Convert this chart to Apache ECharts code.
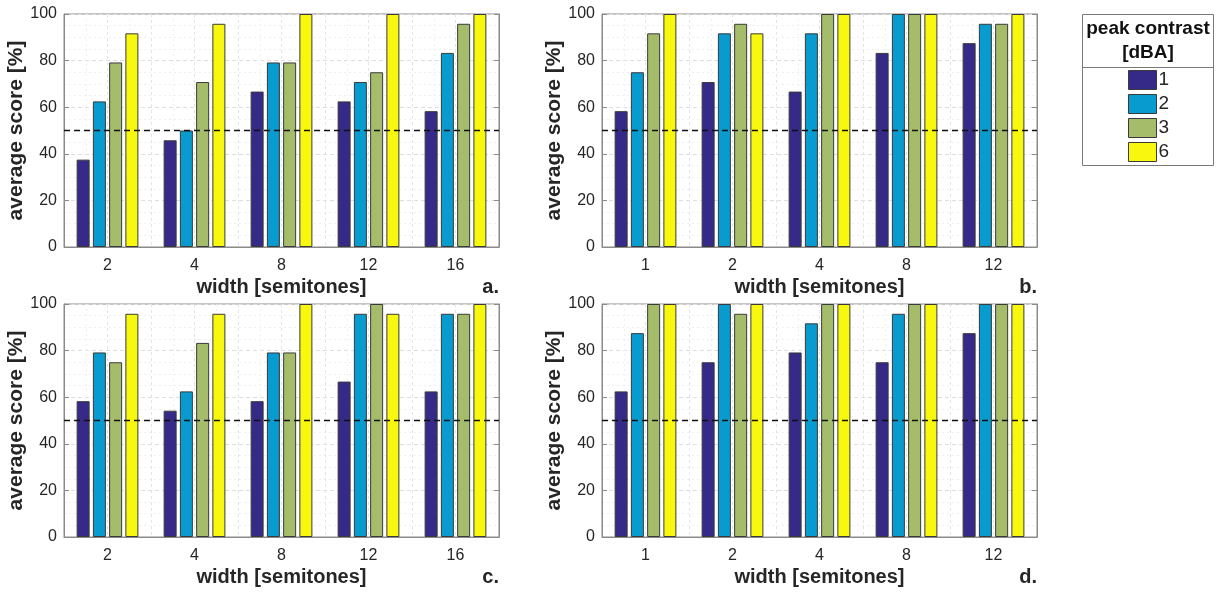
<!DOCTYPE html>
<html>
<head>
<meta charset="utf-8">
<script src="https://cdn.jsdelivr.net/npm/echarts@6/dist/echarts.min.js"></script>
<style>
html,body{margin:0;padding:0;background:#fff;}
#c{width:1221px;height:592px;}
</style>
</head>
<body>
<div id="c"></div>
<script>
// ---- data ----
const catsAC = ['2', '4', '8', '12', '16'];
const catsBD = ['1', '2', '4', '8', '12'];
const seriesNames = ['1', '2', '3', '6'];
const colors = ['#352A87', '#079BCF', '#A5BD6A', '#F8F80F'];

const panelA_1 = [37.5, 45.8, 66.7, 62.5, 58.3];
const panelA_2 = [62.5, 50.0, 79.2, 70.8, 83.3];
const panelA_3 = [79.2, 70.8, 79.2, 75.0, 95.8];
const panelA_6 = [91.7, 95.8, 100, 100, 100];

const panelB_1 = [58.3, 70.8, 66.7, 83.3, 87.5];
const panelB_2 = [75.0, 91.7, 91.7, 100, 95.8];
const panelB_3 = [91.7, 95.8, 100, 100, 95.8];
const panelB_6 = [100, 91.7, 100, 100, 100];

const panelC_1 = [58.3, 54.2, 58.3, 66.7, 62.5];
const panelC_2 = [79.2, 62.5, 79.2, 95.8, 95.8];
const panelC_3 = [75.0, 83.3, 79.2, 100, 95.8];
const panelC_6 = [95.8, 95.8, 100, 95.8, 100];

const panelD_1 = [62.5, 75.0, 79.2, 75.0, 87.5];
const panelD_2 = [87.5, 100, 91.7, 95.8, 100];
const panelD_3 = [100, 95.8, 100, 100, 100];
const panelD_6 = [100, 100, 100, 100, 100];

const chanceLevel = 50;
const panelLetters = ['a.', 'b.', 'c.', 'd.'];
const xName = 'width [semitones]';
const yName = 'average score [%]';
const legendTitle1 = 'peak contrast';
const legendTitle2 = '[dBA]';

// ---- layout ----
const panels = [
  {cats: catsAC, data: [panelA_1, panelA_2, panelA_3, panelA_6], left: 64, top: 14},
  {cats: catsBD, data: [panelB_1, panelB_2, panelB_3, panelB_6], left: 602, top: 14},
  {cats: catsAC, data: [panelC_1, panelC_2, panelC_3, panelC_6], left: 64, top: 304},
  {cats: catsBD, data: [panelD_1, panelD_2, panelD_3, panelD_6], left: 602, top: 304}
];
const W = 435, H = 233;
const txt = '#262626';
const font = 'Liberation Sans, Arial, sans-serif';

const grid = [], xAxis = [], yAxis = [], series = [], graphic = [];

panels.forEach((p, i) => {
  grid.push({left: p.left, top: p.top, width: W, height: H, show: true, borderColor: '#8a8a8a', borderWidth: 1, backgroundColor: 'transparent'});
  // category axis
  xAxis.push({
    type: 'category', gridIndex: i, data: p.cats,
    axisLine: {show: true, lineStyle: {color: '#8a8a8a'}},
    axisTick: {show: false},
    axisLabel: {color: txt, fontSize: 16, fontFamily: font, margin: 11},
    splitLine: {show: false},
    name: xName, nameLocation: 'middle', nameGap: 30,
    nameTextStyle: {color: txt, fontSize: 20, fontWeight: 'bold', fontFamily: font}
  });
  // hidden value axis for vertical grid lines
  xAxis.push({
    type: 'value', gridIndex: i, min: 0.5, max: 5.5, interval: 0.5, position: 'top',
    axisLine: {show: false}, axisTick: {show: false}, axisLabel: {show: false},
    splitLine: {show: true, lineStyle: {color: '#e4e4e4', type: [3, 3], width: 1}},
    minorTick: {show: false, splitNumber: 2},
    minorSplitLine: {show: true, lineStyle: {color: '#f0f0f0', type: [2, 3], width: 1}}
  });
  yAxis.push({
    type: 'value', gridIndex: i, min: 0, max: 100, interval: 20,
    axisLine: {show: true, lineStyle: {color: '#8a8a8a'}},
    axisTick: {show: true, inside: true, length: 5, lineStyle: {color: '#8a8a8a'}},
    axisLabel: {color: txt, fontSize: 16, fontFamily: font, margin: 7},
    splitLine: {show: true, lineStyle: {color: '#dedede', type: [4, 3], width: 1}},
    minorTick: {show: false, splitNumber: 4},
    minorSplitLine: {show: true, lineStyle: {color: '#efefef', type: [2, 3], width: 1}},
    name: yName, nameLocation: 'middle', nameGap: 34, nameRotate: 90,
    nameTextStyle: {color: txt, fontSize: 21, fontWeight: 'bold', fontFamily: font}
  });
  yAxis.push({
    type: 'value', gridIndex: i, min: 0, max: 100, interval: 20, position: 'right',
    axisLine: {show: true, lineStyle: {color: '#8a8a8a'}},
    axisTick: {show: true, inside: true, length: 5, lineStyle: {color: '#8a8a8a'}},
    axisLabel: {show: false}, splitLine: {show: false}
  });
  seriesNames.forEach((nm, k) => {
    const s = {
      name: nm, type: 'bar', xAxisIndex: 2 * i, yAxisIndex: 2 * i,
      data: p.data[k], barWidth: 13, barGap: '25%',
      itemStyle: {color: colors[k], borderColor: '#3a3a3a', borderWidth: 1},
      emphasis: {disabled: true}, z: 4
    };
    if (k === 3) {
      s.markLine = {
        silent: true, symbol: 'none', label: {show: false},
        lineStyle: {color: '#111', type: [6, 4], width: 1.4},
        data: [{yAxis: chanceLevel}], z: 6
      };
    }
    series.push(s);
  });
  graphic.push({
    type: 'text', right: 1221 - (p.left + W), top: p.top + H + 30,
    style: {text: panelLetters[i], fill: txt, font: 'bold 20px ' + font, textAlign: 'right'}
  });
});

// legend box
graphic.push({type: 'rect', shape: {x: 1082.5, y: 14.5, width: 131, height: 151}, style: {fill: '#fff', stroke: '#7a7a7a', lineWidth: 1}, z: 0});
graphic.push({type: 'line', shape: {x1: 1082.5, y1: 67.5, x2: 1213.5, y2: 67.5}, style: {stroke: '#7a7a7a', lineWidth: 1}, z: 1});
graphic.push({type: 'text', x: 1148, y: 29, style: {text: legendTitle1, fill: '#111', font: 'bold 19px ' + font, textAlign: 'center', textVerticalAlign: 'middle'}, z: 1});
graphic.push({type: 'text', x: 1148, y: 53, style: {text: legendTitle2, fill: '#111', font: 'bold 19px ' + font, textAlign: 'center', textVerticalAlign: 'middle'}, z: 1});

const option = {
  backgroundColor: '#fff',
  animation: false,
  grid, xAxis, yAxis, series, graphic,
  legend: {
    data: seriesNames.map((n, k) => ({name: n, itemStyle: {color: colors[k], borderColor: '#3a3a3a', borderWidth: 1}})),
    orient: 'vertical', left: 1128, top: 70, icon: 'rect',
    itemWidth: 28, itemHeight: 19, itemGap: 4, padding: 0,
    selectedMode: false,
    textStyle: {color: txt, fontSize: 19, fontFamily: font, padding: [0, 0, 0, -3]}
  }
};

const chart = echarts.init(document.getElementById('c'), null, {renderer: 'canvas'});
chart.setOption(option);
</script>
</body>
</html>
